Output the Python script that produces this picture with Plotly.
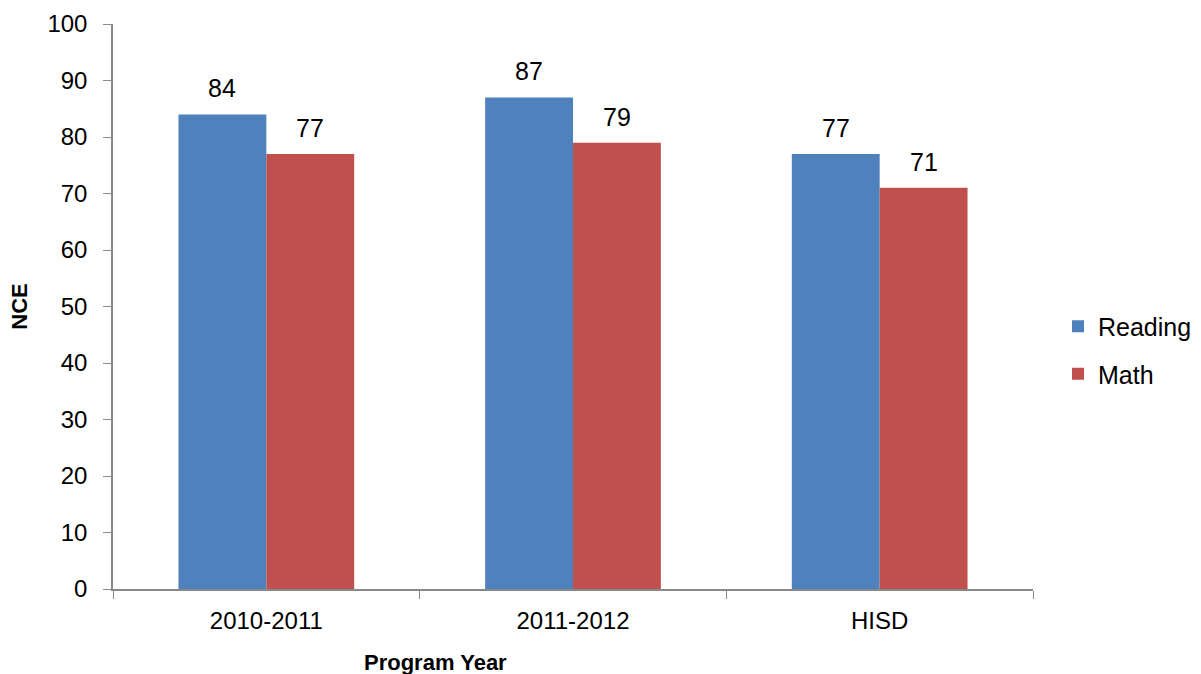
import plotly.graph_objects as go

categories = ["2010-2011", "2011-2012", "HISD"]
reading = [84, 87, 77]
math_vals = [77, 79, 71]

FONT = "Liberation Sans, Arial, sans-serif"
BAR_PX = 88  # approx pixel width of one bar, used to centre value labels

fig = go.Figure()
fig.add_trace(go.Bar(x=categories, y=reading, name="Reading", marker_color="#4F81BD",
                     marker_line_width=0, legendgroup="r"))
fig.add_trace(go.Bar(x=categories, y=math_vals, name="Math", marker_color="#C0504D",
                     marker_line_width=0, legendgroup="m"))

annotations = []
for series, shift in ((reading, -BAR_PX / 2), (math_vals, BAR_PX / 2)):
    for c, v in zip(categories, series):
        annotations.append(dict(x=c, y=v, xref="x", yref="y", text=str(v), showarrow=False,
                                xanchor="center", yanchor="bottom", xshift=shift, yshift=10,
                                font=dict(size=25, color="black")))
annotations.append(dict(text="<b>Program Year</b>", xref="paper", yref="paper",
                        x=(435 - 113) / 920, y=-(662 - 589) / 565, xanchor="center",
                        yanchor="middle", showarrow=False, font=dict(size=22)))

fig.update_layout(
    width=1201, height=674,
    margin=dict(l=113, r=168, t=24, b=85, autoexpand=False),
    plot_bgcolor="white", paper_bgcolor="white",
    font=dict(family=FONT, size=24, color="black"),
    barmode="group", bargap=0.427, bargroupgap=0,
    showlegend=True,
    legend=dict(xref="container", yref="container", x=1058 / 1201, y=1 - 350 / 674,
                xanchor="left", yanchor="middle",
                font=dict(size=25), tracegroupgap=12, itemwidth=30),
    xaxis=dict(type="category", tickson="boundaries", ticks="outside", ticklen=8,
               tickcolor="#888888", showline=True, linecolor="#888888", linewidth=1.5,
               tickfont=dict(size=24), showgrid=False, automargin=False,
               ticklabelstandoff=9),
    yaxis=dict(range=[0, 100], dtick=10, ticks="outside", ticklen=8, tickcolor="#888888",
               showline=True, linecolor="#888888", linewidth=1.5, showgrid=False,
               zeroline=False, tickfont=dict(size=24), automargin=False,
               ticklabelstandoff=11,
               title=dict(text="<b>NCE</b>", font=dict(size=22), standoff=14)),
    annotations=annotations,
)

fig.write_html("out.html", config={"displayModeBar": False},
               post_script="document.body.style.margin='0px';")
